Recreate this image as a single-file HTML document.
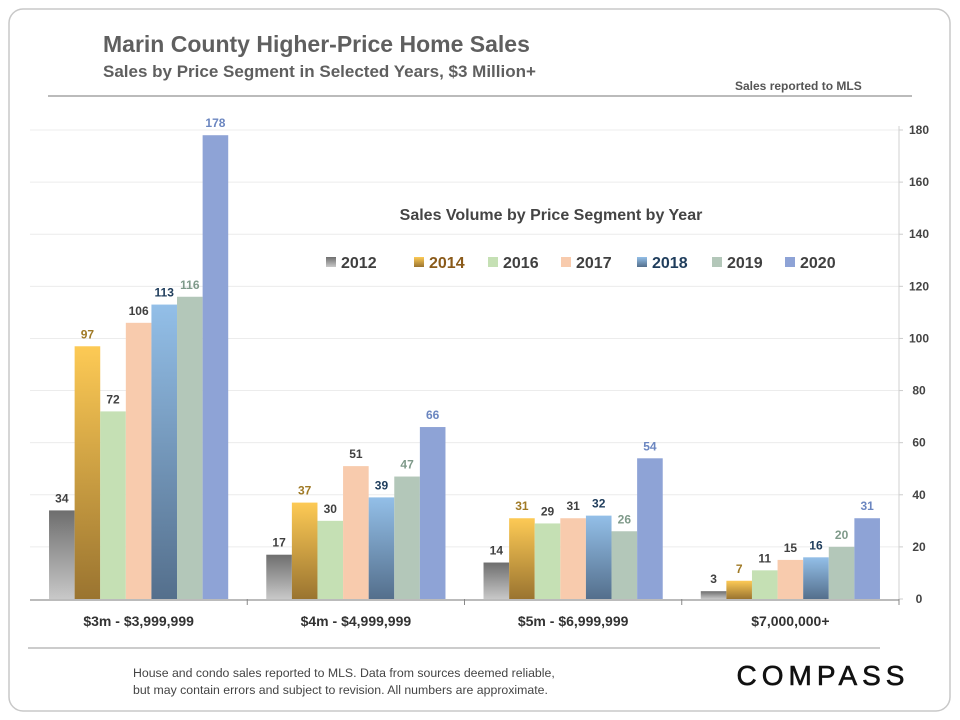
<!DOCTYPE html>
<html><head><meta charset="utf-8"><style>
body{margin:0;background:#fff;font-family:"Liberation Sans",sans-serif;}
#wrap{position:relative;width:960px;height:720px;overflow:hidden;}
</style></head><body>
<div id="wrap">
<svg id="svg" width="960" height="720" xmlns="http://www.w3.org/2000/svg">
<defs>
<linearGradient id="g2012" x1="0" y1="0" x2="0" y2="1"><stop offset="0" stop-color="#6e6e6e"/><stop offset="1" stop-color="#c8c8c8"/></linearGradient>
<linearGradient id="g2014" x1="0" y1="0" x2="0" y2="1"><stop offset="0" stop-color="#fdca55"/><stop offset="1" stop-color="#9a7430"/></linearGradient>
<linearGradient id="g2018" x1="0" y1="0" x2="0" y2="1"><stop offset="0" stop-color="#93bfe8"/><stop offset="1" stop-color="#546f8c"/></linearGradient>
</defs>
<rect x="9" y="9" width="941" height="702" rx="14" fill="none" stroke="#c8c8c8" stroke-width="1.5"/>
<text x="103" y="52" font-size="23" font-weight="bold" fill="#5f5f5f">Marin County Higher-Price Home Sales</text>
<text x="103" y="77" font-size="17" font-weight="bold" fill="#5f5f5f">Sales by Price Segment in Selected Years, $3 Million+</text>
<text x="735" y="90" font-size="12" font-weight="bold" fill="#555">Sales reported to MLS</text>
<line x1="48" y1="96" x2="912" y2="96" stroke="#777" stroke-width="1"/>
<text x="551" y="220" font-size="16" font-weight="bold" fill="#444" text-anchor="middle">Sales Volume by Price Segment by Year</text>
<g id="grid"></g><g id="bars"></g><g id="legend"></g>
<line x1="28" y1="648" x2="880" y2="648" stroke="#999"/>
<text x="133" y="677" font-size="12.3" fill="#444">House and condo sales reported to MLS. Data from sources deemed reliable,</text>
<text x="133" y="694" font-size="12.3" fill="#444">but may contain errors and subject to revision.  All numbers are approximate.</text>
<text x="823" y="685" font-size="28" fill="#111" stroke="#111" stroke-width="0.6" text-anchor="middle" letter-spacing="5">COMPASS</text>
</svg></div>
<script>
const categories=["$3m - $3,999,999","$4m - $4,999,999","$5m - $6,999,999","$7,000,000+"];
const years=["2012","2014","2016","2017","2018","2019","2020"];
const s2012=[34,17,14,3];
const s2014=[97,37,31,7];
const s2016=[72,30,29,11];
const s2017=[106,51,31,15];
const s2018=[113,39,32,16];
const s2019=[116,47,26,20];
const s2020=[178,66,54,31];
const ticks=[0,20,40,60,80,100,120,140,160,180];
const fills=["url(#g2012)","url(#g2014)","#c5e0b4","#f8cbad","url(#g2018)","#b3c7b9","#8ea3d6"];
const labelColors=["#404040","#a07a26","#404040","#404040","#1f3d5c","#7f9a8a","#6b86c0"];
const legendColors=["#3f3f3f","#8a5a1a","#404040","#404040","#1f3d5c","#404040","#404040"];
const series=[s2012,s2014,s2016,s2017,s2018,s2019,s2020];
const NS="http://www.w3.org/2000/svg";
const X0=30,X1=899,Y0=599,Y1=130,MAX=180;
const y=v=>Y0-(v/MAX)*(Y0-Y1);
const gw=(X1-X0)/categories.length, bw=25.6;
const x=(ci,si)=>X0+gw*ci+gw/2-bw*years.length/2+bw*si;
function mk(t,a,p){const e=document.createElementNS(NS,t);for(const k in a)e.setAttribute(k,a[k]);p.appendChild(e);return e;}
const grid=document.getElementById('grid');
ticks.forEach(t=>{
  if(t>0){const l=mk('line',{x1:X0,x2:X1,y1:y(t),y2:y(t),stroke:'#ececec'},grid);
  
  }
  const tx=mk('text',{x:919,y:y(t)+4,'font-size':12,'font-weight':'bold',fill:'#444','text-anchor':'middle'},grid);
  tx.textContent=t;
  
  
  const tk=mk('line',{x1:X1,x2:X1+4,y1:y(t),y2:y(t),stroke:'#ccc'},grid);
  
  
});
const ax=mk('line',{x1:X1,x2:X1,y1:Y1-4,y2:Y0,stroke:'#d0d0d0'},grid);


const xa=mk('line',{x1:X0,x2:X1,y1:Y0+1,y2:Y0+1,stroke:'#777'},grid);


const bars=document.getElementById('bars');
categories.forEach((c,ci)=>{
  const sx=X0+gw*(ci+1);
  const sep=mk('line',{x1:sx,x2:sx,y1:Y0,y2:Y0+6,stroke:'#888'},bars);
  
  
  const cl=mk('text',{x:X0+gw*ci+gw/2,y:626,'font-size':14,'font-weight':'bold',fill:'#333','text-anchor':'middle'},bars);
  cl.textContent=c;
  
  
  series.forEach((s,si)=>{
    const v=s[ci];
    const r=mk('rect',{x:x(ci,si),y:y(v),width:bw,height:Y0-y(v),fill:fills[si]},bars);
    
    
    const t=mk('text',{x:x(ci,si)+bw/2,y:y(v)-8,'font-size':12,'font-weight':'bold',fill:labelColors[si],'text-anchor':'middle'},bars);
    t.textContent=v;
    
    
  });
});
const leg=document.getElementById('legend');
const lx=[326,414,488,561,637,712,785];
years.forEach((yr,i)=>{
  const g=mk('g',{},leg);
  
  
  mk('rect',{x:lx[i],y:257,width:10,height:10,fill:fills[i]},g);
  const t=mk('text',{x:lx[i]+15,y:268,'font-size':16,'font-weight':'bold',fill:legendColors[i]},g);
  t.textContent=yr;
});
</script>
</body></html>
